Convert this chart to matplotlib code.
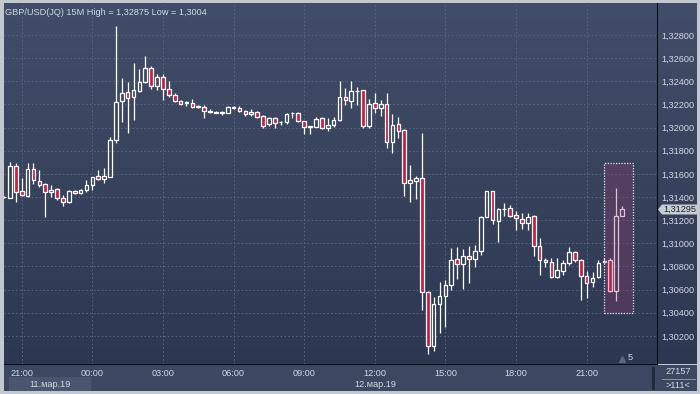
import matplotlib
matplotlib.use("Agg")
import matplotlib.pyplot as plt
import numpy as np
from matplotlib.colors import LinearSegmentedColormap
from matplotlib.patches import Rectangle, Polygon
from matplotlib.lines import Line2D

plt.rcParams["font.family"] = ["Liberation Sans", "DejaVu Sans"]

# GBP/USD 15M bars, bar 0 = 11.03.19 21:00
bar_index = list(range(-3, 103))
opens = [
    1.31400, 1.31394, 1.31668, 1.31455, 1.31409, 1.31640, 1.31541, 1.31510, 1.31441, 1.31467,
    1.31389, 1.31360, 1.31452, 1.31432, 1.31461, 1.31501, 1.31579, 1.31553, 1.31576, 1.31893,
    1.32230, 1.32305, 1.32267, 1.32319, 1.32391, 1.32512, 1.32359, 1.32435, 1.32331, 1.32279,
    1.32230, 1.32212, 1.32210, 1.32181, 1.32181, 1.32137, 1.32129, 1.32129, 1.32129, 1.32172,
    1.32169, 1.32146, 1.32115, 1.32132, 1.32100, 1.32028, 1.32080, 1.32044, 1.32046, 1.32122,
    1.32123, 1.32057, 1.32008, 1.32008, 1.32080, 1.31994, 1.32022, 1.32066, 1.32267, 1.32232,
    1.32318, 1.32322, 1.32016, 1.32210, 1.32167, 1.32204, 1.31878, 1.32031, 1.31979, 1.31519,
    1.31541, 1.31562, 1.30582, 1.30113, 1.30473, 1.30548, 1.30640, 1.30862, 1.30819, 1.30893,
    1.30862, 1.30936, 1.31230, 1.31452, 1.31196, 1.31294, 1.31303, 1.31245, 1.31208, 1.31173,
    1.31236, 1.30977, 1.30841, 1.30839, 1.30712, 1.30764, 1.30827, 1.30928, 1.30856, 1.30718,
    1.30669, 1.30707, 1.30839, 1.30856, 1.30591, 1.31236,
]
highs = [
    1.31410, 1.31700, 1.31692, 1.31567, 1.31692, 1.31692, 1.31634, 1.31521, 1.31504, 1.31478,
    1.31418, 1.31461, 1.31461, 1.31472, 1.31547, 1.31576, 1.31634, 1.31653, 1.31921, 1.32875,
    1.32426, 1.32394, 1.32555, 1.32504, 1.32619, 1.32532, 1.32463, 1.32463, 1.32403, 1.32296,
    1.32238, 1.32232, 1.32244, 1.32195, 1.32195, 1.32160, 1.32139, 1.32146, 1.32187, 1.32187,
    1.32187, 1.32150, 1.32158, 1.32146, 1.32109, 1.32092, 1.32087, 1.32060, 1.32123, 1.32137,
    1.32137, 1.32057, 1.32014, 1.32094, 1.32089, 1.32080, 1.32089, 1.32403, 1.32340, 1.32403,
    1.32348, 1.32325, 1.32244, 1.32296, 1.32238, 1.32296, 1.32117, 1.32094, 1.31988, 1.31677,
    1.31582, 1.31951, 1.30588, 1.30539, 1.30669, 1.30683, 1.30957, 1.30971, 1.30949, 1.30977,
    1.30986, 1.31236, 1.31456, 1.31456, 1.31303, 1.31351, 1.31332, 1.31282, 1.31265, 1.31259,
    1.31245, 1.31043, 1.30871, 1.30871, 1.30876, 1.30852, 1.30971, 1.30934, 1.30865, 1.30764,
    1.30755, 1.30856, 1.30869, 1.30869, 1.31476, 1.31323,
]
lows = [
    1.31395, 1.31389, 1.31355, 1.31409, 1.31403, 1.31513, 1.31484, 1.31230, 1.31403, 1.31374,
    1.31325, 1.31351, 1.31426, 1.31424, 1.31446, 1.31461, 1.31547, 1.31519, 1.31573, 1.31864,
    1.32051, 1.31953, 1.32066, 1.32310, 1.32383, 1.32331, 1.32325, 1.32238, 1.32267, 1.32224,
    1.32193, 1.32187, 1.32167, 1.32169, 1.32080, 1.32126, 1.32122, 1.32111, 1.32123, 1.32163,
    1.32137, 1.32104, 1.32100, 1.32080, 1.31999, 1.32014, 1.31999, 1.32022, 1.32031, 1.32085,
    1.32051, 1.31942, 1.31945, 1.32003, 1.31985, 1.31973, 1.32008, 1.32060, 1.32195, 1.32167,
    1.32195, 1.31994, 1.31999, 1.32129, 1.32100, 1.31826, 1.31783, 1.31907, 1.31412, 1.31360,
    1.31380, 1.30424, 1.30040, 1.30072, 1.30223, 1.30280, 1.30597, 1.30692, 1.30605, 1.30660,
    1.30798, 1.30899, 1.31227, 1.31164, 1.31014, 1.31236, 1.31225, 1.31115, 1.31121, 1.31115,
    1.30891, 1.30726, 1.30793, 1.30703, 1.30703, 1.30726, 1.30813, 1.30839, 1.30510, 1.30525,
    1.30625, 1.30698, 1.30830, 1.30580, 1.30504, 1.31232,
]
closes = [
    1.31403, 1.31668, 1.31446, 1.31415, 1.31640, 1.31547, 1.31501, 1.31441, 1.31461, 1.31389,
    1.31355, 1.31450, 1.31432, 1.31461, 1.31501, 1.31571, 1.31553, 1.31582, 1.31893, 1.32224,
    1.32296, 1.32258, 1.32325, 1.32391, 1.32512, 1.32359, 1.32435, 1.32331, 1.32279, 1.32230,
    1.32204, 1.32217, 1.32181, 1.32183, 1.32143, 1.32140, 1.32131, 1.32132, 1.32175, 1.32175,
    1.32146, 1.32115, 1.32132, 1.32089, 1.32014, 1.32080, 1.32037, 1.32047, 1.32117, 1.32124,
    1.32057, 1.32003, 1.32010, 1.32074, 1.31994, 1.32022, 1.32066, 1.32262, 1.32238, 1.32314,
    1.32320, 1.32016, 1.32204, 1.32167, 1.32204, 1.31878, 1.32022, 1.31973, 1.31519, 1.31547,
    1.31562, 1.30582, 1.30113, 1.30473, 1.30548, 1.30640, 1.30856, 1.30819, 1.30893, 1.30862,
    1.30934, 1.31230, 1.31452, 1.31202, 1.31294, 1.31297, 1.31236, 1.31216, 1.31173, 1.31225,
    1.30977, 1.30856, 1.30853, 1.30712, 1.30770, 1.30833, 1.30928, 1.30856, 1.30718, 1.30655,
    1.30698, 1.30827, 1.30845, 1.30591, 1.31236, 1.31295,
]

time_ticks = [0, 12, 24, 36, 48, 60, 72, 84, 96]
time_labels = ["21:00", "00:00", "03:00", "06:00", "09:00", "12:00", "15:00", "18:00", "21:00"]
date_labels = ["11.мар.19", "12.мар.19"]
price_ticks = [1.302, 1.304, 1.306, 1.308, 1.310, 1.312, 1.314, 1.316,
               1.318, 1.320, 1.322, 1.324, 1.326, 1.328]
title = "GBP/USD(JQ) 15M High = 1,32875 Low = 1,3004"
last_price = "1,31295"
bars_count = "27157"
zoom_text = ">111<"

W, H = 700, 394
TXT = "#d3d8e0"
BORDER = "#c3c7ce"
FS = 6.6


def rect(x0, y0, x1, y1):
    # pixel box (top-left origin) -> figure fraction
    return [x0 / W, 1 - y1 / H, (x1 - x0) / W, (y1 - y0) / H]


def fpt(x, y):
    return (x / W, 1 - y / H)


fig = plt.figure(figsize=(W / 100, H / 100), dpi=100, facecolor=BORDER)

# gradient background for chart + price panel
grad = LinearSegmentedColormap.from_list("bg", ["#2c3751", "#424e69"])
bg = fig.add_axes(rect(4, 3, 697, 364))
bg.imshow(np.linspace(0, 1, 256).reshape(-1, 1)[::-1], cmap=grad, aspect="auto",
          extent=[0, 1, 0, 1])
bg.set_axis_off()

# time strip
strip = fig.add_axes(rect(4, 365, 697, 391))
strip.set_facecolor("#3c4862")
strip.set_xticks([])
strip.set_yticks([])
for s in strip.spines.values():
    s.set_visible(False)

ax = fig.add_axes(rect(4, 3, 657, 364))
ax.set_facecolor("none")
ax.set_xlim(-3.01, 107.95)
ax.set_ylim(1.29957, 1.33076)
for side in ["top", "left"]:
    ax.spines[side].set_visible(False)
ax.spines["right"].set_color("#0b0f16")
ax.spines["bottom"].set_color("#0b0f16")

for t in time_ticks:
    ax.axvline(t, color="#5b6883", lw=0.7, dashes=(1.6, 2.4), zorder=1)
for p in price_ticks:
    ax.axhline(p, color="#5b6883", lw=0.7, dashes=(1.6, 2.4), zorder=1)

x = np.array(bar_index)
o = np.array(opens)
h = np.array(highs)
l = np.array(lows)
c = np.array(closes)
top = np.maximum(o, c)
bot = np.minimum(o, c)
up = c >= o

ax.vlines(x, top, h, color="white", lw=0.9, zorder=3)
ax.vlines(x, l, bot, color="white", lw=0.9, zorder=3)
body = np.maximum(top - bot, 0.00002)
ax.bar(x[up], body[up], bottom=bot[up], width=0.62, facecolor="none",
       edgecolor="white", lw=0.9, zorder=4)
ax.bar(x[~up], body[~up], bottom=bot[~up], width=0.62, facecolor="#cf1c3d",
       edgecolor="white", lw=0.9, zorder=4)

# highlight of the latest bars
ax.add_patch(Rectangle((99.0, 1.30401), 4.9, 0.01289, facecolor="#9a3a6c",
                       alpha=0.3, edgecolor="none", zorder=5))
ax.add_patch(Rectangle((99.0, 1.30401), 4.9, 0.01289, facecolor="none",
                       edgecolor="#e6e6ee", lw=0.9, linestyle=(0, (1, 1.2)), zorder=6))

ax.yaxis.tick_right()
ax.set_yticks(price_ticks)
ax.set_yticklabels([f"{p:.5f}".replace(".", ",") for p in price_ticks])
ax.set_xticks(time_ticks)
ax.set_xticklabels(time_labels)
ax.tick_params(axis="y", length=0, pad=3.0, labelsize=FS, labelcolor=TXT)
ax.tick_params(axis="x", length=0, pad=3.5, labelsize=FS, labelcolor=TXT)

ax.text(0.002, 0.985, title, transform=ax.transAxes, ha="left", va="top",
        fontsize=FS, color=TXT)

# last price marker
fig.patches.append(Polygon([fpt(658, 209.5), fpt(662, 204.5), fpt(697, 204.5),
                            fpt(697, 214.5), fpt(662, 214.5)], closed=True,
                           transform=fig.transFigure, facecolor="#c8ccd3",
                           edgecolor="none"))
fig.text(679.5 / W, 1 - 209.8 / H, last_price, ha="center", va="center",
         fontsize=FS, color="#1c2230")

# date labels
fig.patches.append(Rectangle(fpt(9, 391), 82 / W, 14 / H, transform=fig.transFigure,
                             facecolor="#4a5670", edgecolor="none"))
fig.text(50 / W, 1 - 384.5 / H, date_labels[0], ha="center", va="center",
         fontsize=FS, color=TXT)
fig.text(375 / W, 1 - 384.5 / H, date_labels[1], ha="center", va="center",
         fontsize=FS, color=TXT)

# bottom right info box
fig.text(678 / W, 1 - 371.5 / H, bars_count, ha="center", va="center",
         fontsize=FS, color=TXT)
fig.text(678 / W, 1 - 385 / H, zoom_text, ha="center", va="center",
         fontsize=FS, color=TXT)
fig.lines.append(Line2D([662 / W, 695 / W], [1 - 378.5 / H] * 2,
                        transform=fig.transFigure, color="#9aa2b0", lw=0.6))
fig.patches.append(Rectangle(fpt(652, 390), 2.5 / W, 23 / H, transform=fig.transFigure,
                             facecolor="#252b36", edgecolor="none"))

# scroll marker
fig.lines.append(Line2D([622 / W], [1 - 359 / H], transform=fig.transFigure,
                        marker="^", markersize=4, color="#5d677b", lw=0))
fig.text(630.5 / W, 1 - 358 / H, "5", ha="center", va="center", fontsize=FS, color=TXT)

fig.savefig("out.png", dpi=100, facecolor=BORDER)
